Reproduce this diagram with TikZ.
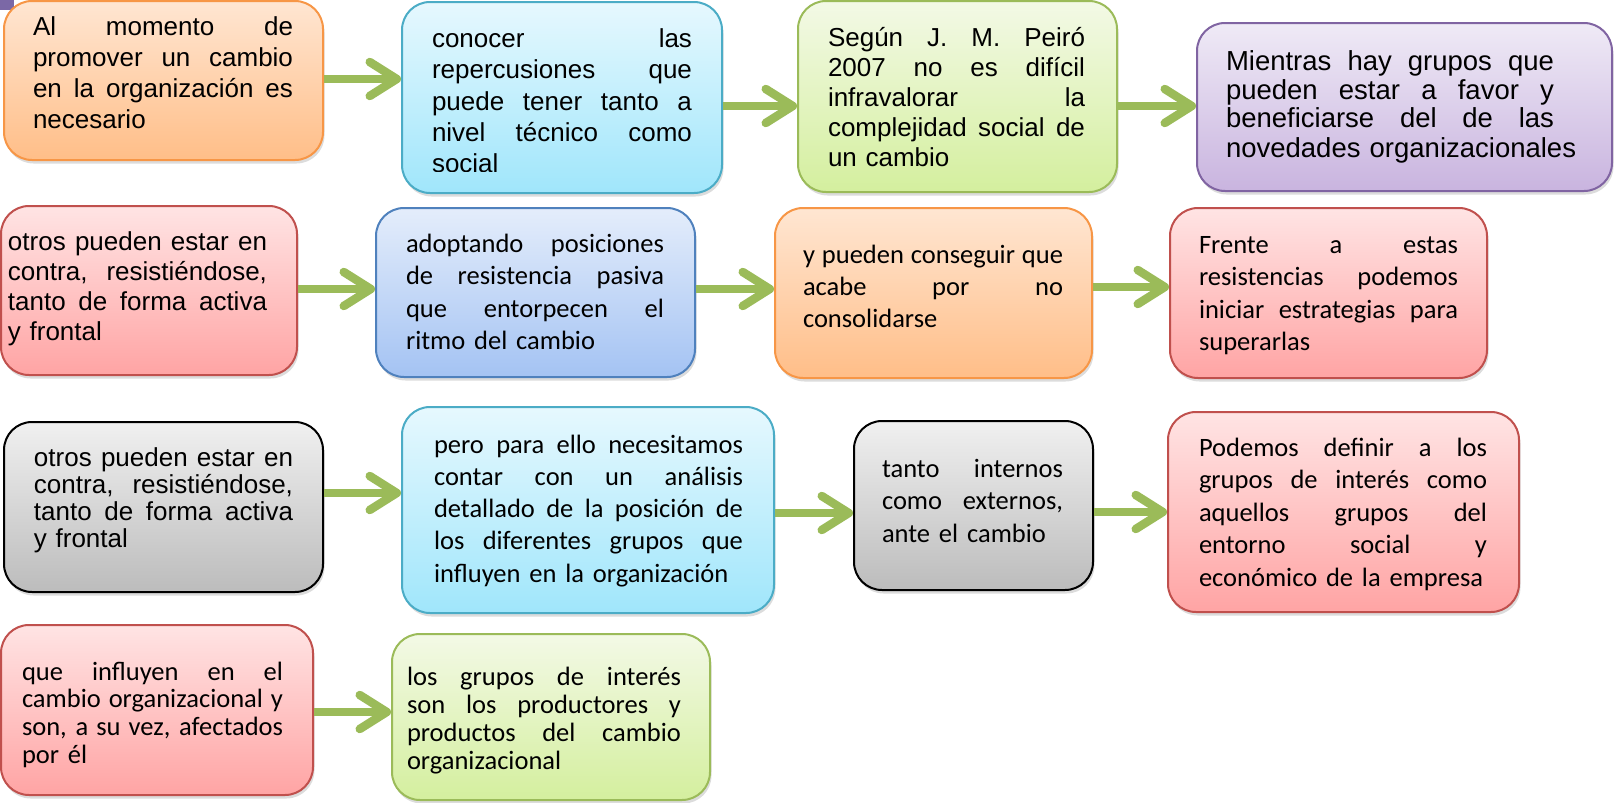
\documentclass[tikz,border=0pt]{standalone}
\usepackage{fontspec}
\newfontfamily\arialf{Liberation Sans}
\newfontfamily\calf{Carlito}
\usetikzlibrary{arrows.meta,shadows,fit}
\definecolor{agreen}{HTML}{9BBB59}
\definecolor{orB}{HTML}{F79646}\definecolor{orT}{HTML}{FFE6D2}\definecolor{orM}{HTML}{FFBE88}
\definecolor{cyB}{HTML}{4BACC6}\definecolor{cyT}{HTML}{E6F8FE}\definecolor{cyM}{HTML}{A0E6FB}
\definecolor{grB}{HTML}{9BBB59}\definecolor{grT}{HTML}{F3F9E6}\definecolor{grM}{HTML}{D4EF9E}
\definecolor{puB}{HTML}{8064A2}\definecolor{puT}{HTML}{EFEAF6}\definecolor{puM}{HTML}{C9B4DF}
\definecolor{reB}{HTML}{C0504D}\definecolor{reT}{HTML}{FFE4E4}\definecolor{reM}{HTML}{FFA4A4}
\definecolor{blB}{HTML}{4F81BD}\definecolor{blT}{HTML}{E4EDFB}\definecolor{blM}{HTML}{A4C3F3}
\definecolor{gyB}{HTML}{000000}\definecolor{gyT}{HTML}{F0F0F0}\definecolor{gyM}{HTML}{BCBCBC}
\definecolor{pcorner}{HTML}{7B68A6}
\newlength\jw
\newcommand\J[1]{\leavevmode\hbox to \jw{\spaceskip=\fontdimen2\font plus 1fil\relax #1}\\}
\tikzset{
  box/.style={rectangle, rounded corners=28pt, line width=2pt, inner sep=0pt,
    drop shadow={shadow xshift=1.5pt, shadow yshift=-3.5pt, opacity=0.28}},
  orbox/.style={box, draw=orB, top color=orT, bottom color=orM},
  cybox/.style={box, draw=cyB, top color=cyT, bottom color=cyM},
  grbox/.style={box, draw=grB, top color=grT, bottom color=grM},
  pubox/.style={box, draw=puB, top color=puT, bottom color=puM},
  rebox/.style={box, draw=reB, top color=reT, bottom color=reM},
  blbox/.style={box, draw=blB, top color=blT, bottom color=blM},
  gybox/.style={box, draw=gyB, top color=gyT, bottom color=gyM},
  txt/.style={anchor=base west, inner sep=0pt, outer sep=0pt, align=left, text width=#1,
    execute at begin node={\setlength{\jw}{#1}}},
  arr/.style={draw=agreen, line width=8pt,
    -{Straight Barb[length=27pt, width=34pt, line width=8.5pt, round]}},
}
\begin{document}
\begin{tikzpicture}[x=1pt, y=-1pt]
\useasboundingbox (0,0) rectangle (1618,803);
\fill[pcorner] (0,0) rectangle (14,10);
% boxes
\node[orbox, fit={(4,1) (323,160)}] (b1) {};
\node[cybox, fit={(402,2) (722,193)}] (b2) {};
\node[grbox, fit={(798,1) (1117,192)}] (b3) {};
\node[pubox, fit={(1197,23) (1612,191)}] (b4) {};
\node[rebox, fit={(1,206) (297,375)}] (b5) {};
\node[blbox, fit={(376,208) (695,377)}] (b6) {};
\node[orbox, fit={(775,208) (1092,378)}] (b7) {};
\node[rebox, fit={(1170,208) (1487,378)}] (b8) {};
\node[gybox, fit={(4,422) (323,592)}] (b9) {};
\node[cybox, fit={(402,407) (774,613)}] (b10) {};
\node[gybox, fit={(854,421) (1093,590)}] (b11) {};
\node[rebox, fit={(1168,412) (1519,612)}] (b12) {};
\node[rebox, fit={(1,625) (313,795)}] (b13) {};
\node[grbox, fit={(392,634) (710,800)}] (b14) {};
% texts
\node[txt=260pt, font=\arialf\fontsize{26}{31}\selectfont] (t1) at (33,35)
  {\J{Al momento de}\J{promover un cambio}\J{en la organización es}necesario};
\begin{scope}
\clip (402,0) rectangle (722,171);
\node[txt=260pt, font=\arialf\fontsize{26}{31.5}\selectfont] (t2) at (432,47)
  {\J{conocer las}\J{repercusiones que}\J{puede tener tanto a}\J{nivel técnico como}social};
\end{scope}
\node[txt=257pt, font=\arialf\fontsize{26}{30}\selectfont] (t3) at (828,46.5)
  {\J{Según J. M. Peiró}\J{2007 no es difícil}\J{infravalorar la}\J{complejidad social de}un cambio};
\node[txt=328pt, font=\arialf\fontsize{27.5}{29}\selectfont] (t4) at (1226,70)
  {\J{Mientras hay grupos que}\J{pueden estar a favor y}\J{beneficiarse del de las}\mbox{novedades organizacionales}};
\node[txt=259pt, font=\arialf\fontsize{26}{30}\selectfont] (t5) at (8,250)
  {\J{otros pueden estar en}\J{contra, resistiéndose,}\J{tanto de forma activa}y frontal};
\node[txt=258pt, font=\calf\fontsize{26.5}{32.5}\selectfont] (t6) at (406,252)
  {\J{adoptando posiciones}\J{de resistencia pasiva}\J{que entorpecen el}ritmo del cambio};
\node[txt=260pt, font=\calf\fontsize{26.5}{32}\selectfont] (t7) at (803,263)
  {\J{y pueden conseguir que}\J{acabe por no}consolidarse};
\node[txt=259pt, font=\calf\fontsize{26.5}{32.5}\selectfont] (t8) at (1199,253)
  {\J{Frente a estas}\J{resistencias podemos}\J{iniciar estrategias para}superarlas};
\node[txt=259pt, font=\arialf\fontsize{26}{27}\selectfont] (t9) at (34,466)
  {\J{otros pueden estar en}\J{contra, resistiéndose,}\J{tanto de forma activa}y frontal};
\node[txt=309pt, font=\calf\fontsize{26.5}{32.25}\selectfont] (t10) at (434,453)
  {\J{pero para ello necesitamos}\J{contar con un análisis}\J{detallado de la posición de}\J{los diferentes grupos que}influyen en la organización};
\node[txt=181pt, font=\calf\fontsize{26.5}{32.5}\selectfont] (t11) at (882,477)
  {\J{tanto internos}\J{como externos,}ante el cambio};
\node[txt=288pt, font=\calf\fontsize{26.5}{32.5}\selectfont] (t12) at (1199,456)
  {\J{Podemos definir a los}\J{grupos de interés como}\J{aquellos grupos del}\J{entorno social y}económico de la empresa};
\node[txt=261pt, font=\calf\fontsize{26.5}{27.7}\selectfont] (t13) at (22,680)
  {\J{que influyen en el}\J{cambio organizacional y}\J{son, a su vez, afectados}por él};
\node[txt=274pt, font=\calf\fontsize{26.5}{28.3}\selectfont] (t14) at (407,685)
  {\J{los grupos de interés}\J{son los productores y}\J{productos del cambio}organizacional};
% arrow levels
\coordinate (r1) at (0,79);
\coordinate (r2) at (0,106);
\coordinate (r3) at (0,106);
\coordinate (r4) at (0,289);
\coordinate (r5) at (0,289);
\coordinate (r6) at (0,287);
\coordinate (r7) at (0,493);
\coordinate (r8) at (0,513);
\coordinate (r9) at (0,512);
\coordinate (r10) at (0,712);
% arrows
\draw[arr] (b1.east |- r1) -- (b2.west |- r1);
\draw[arr] (b2.east |- r2) -- (b3.west |- r2);
\draw[arr] (b3.east |- r3) -- (b4.west |- r3);
\draw[arr] (b5.east |- r4) -- (b6.west |- r4);
\draw[arr] (b6.east |- r5) -- (b7.west |- r5);
\draw[arr] (b7.east |- r6) -- (b8.west |- r6);
\draw[arr] (b9.east |- r7) -- (b10.west |- r7);
\draw[arr] (b10.east |- r8) -- (b11.west |- r8);
\draw[arr] (b11.east |- r9) -- (b12.west |- r9);
\draw[arr] (b13.east |- r10) -- (b14.west |- r10);
\end{tikzpicture}
\end{document}
